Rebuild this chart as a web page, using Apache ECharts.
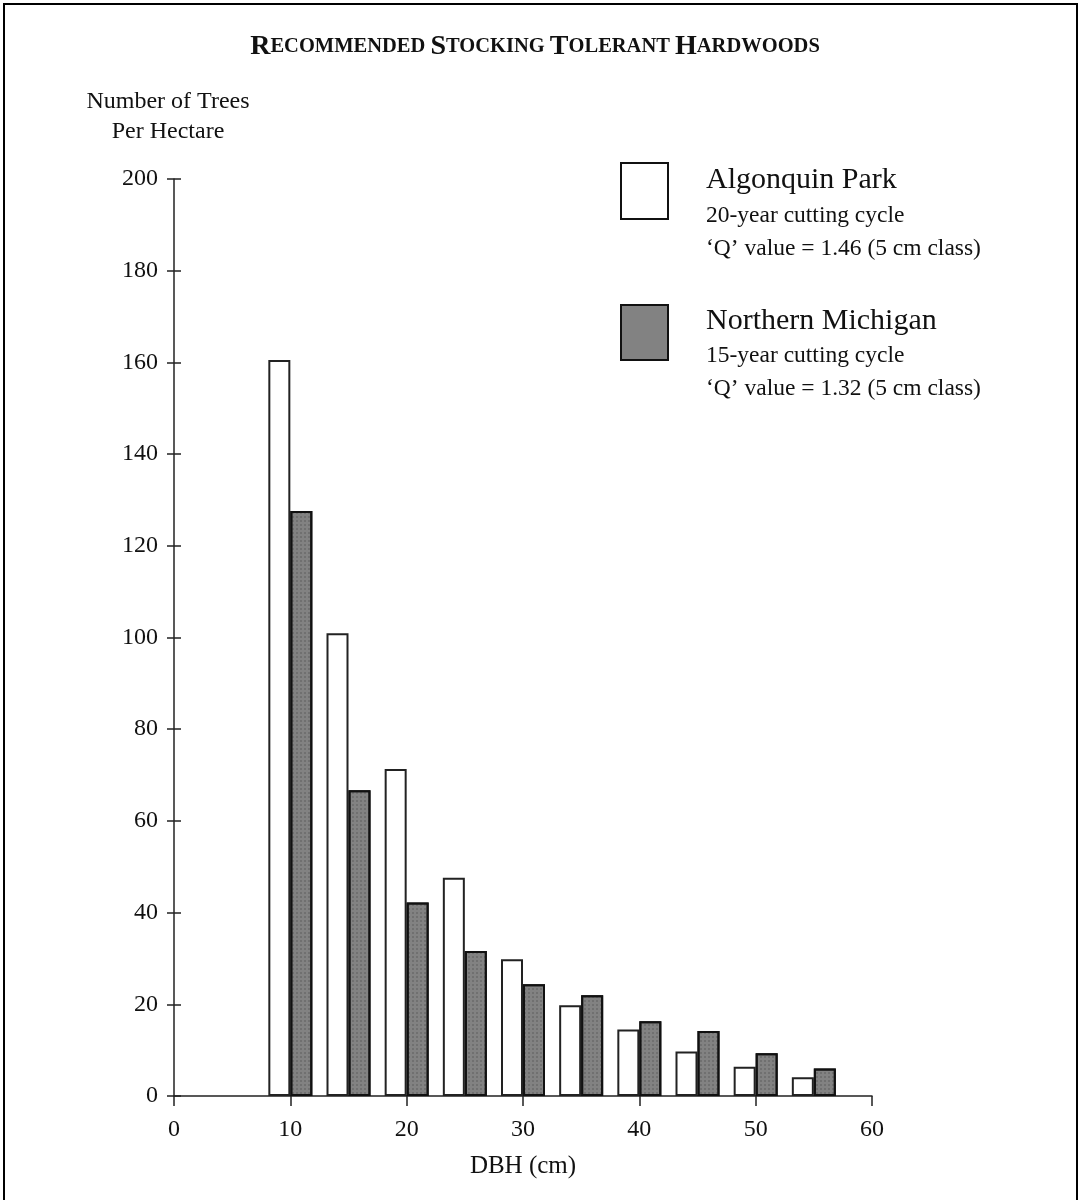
<!DOCTYPE html>
<html>
<head>
<meta charset="utf-8">
<script src="https://cdn.jsdelivr.net/npm/echarts@6/dist/echarts.min.js"></script>
<style>
html,body{margin:0;padding:0;background:#fff;}
#chart{width:1081px;height:1200px;}
</style>
</head>
<body>
<div id="chart"></div>
<script>
const chartTitle = 'Recommended Stocking Tolerant Hardwoods';
const dbhClasses = [10, 15, 20, 25, 30, 35, 40, 45, 50, 55];
const seriesNames = ['Algonquin Park', 'Northern Michigan'];
const algonquin = [160.5, 100.9, 71.3, 47.6, 29.8, 19.8, 14.5, 9.7, 6.4, 4.1];
const michigan  = [127.6, 66.7, 42.2, 31.6, 24.4, 22.0, 16.3, 14.2, 9.3, 6.0];
const legendNotes = [
  ['20-year cutting cycle', "\u2018Q\u2019 value = 1.46 (5 cm class)"],
  ['15-year cutting cycle', "\u2018Q\u2019 value = 1.32 (5 cm class)"]
];
const yAxisName = 'Number of Trees\nPer Hectare';
const xAxisName = 'DBH (cm)';

const FONT = "'Liberation Serif', 'DejaVu Serif', serif";

function smallCaps(str) {
  return str.split(' ').map(w => '{b|' + w[0].toUpperCase() + '}{s|' + w.slice(1).toUpperCase() + '}').join('{s| }');
}

const chart = echarts.init(document.getElementById('chart'), null, {renderer: 'canvas'});
const gridL = 174, gridR = 209, gridT = 179, gridB = 104;

const michiganColor = '#828282';
const michiganDecal = {symbol: 'rect', symbolSize: 0.6, color: 'rgba(30,30,30,0.55)', dashArrayX: [2, 2], dashArrayY: [2, 2], rotation: 0};

chart.setOption({
  backgroundColor: '#fff',
  animation: false,
  title: {
    text: smallCaps(chartTitle),
    left: 530, top: 28, textAlign: 'center',
    textStyle: {
      rich: {
        b: {fontFamily: FONT, fontSize: 28, color: '#111'},
        s: {fontFamily: FONT, fontSize: 20.5, color: '#111'}
      }
    }
  },
  grid: {left: gridL, right: gridR, top: gridT, bottom: gridB},
  xAxis: {
    type: 'value', min: 0, max: 60, interval: 10,
    name: xAxisName, nameLocation: 'middle', nameGap: 58,
    nameTextStyle: {fontFamily: FONT, fontSize: 25, color: '#111'},
    axisLine: {show: true, lineStyle: {color: '#222', width: 1.5}},
    axisTick: {show: true, length: 10, lineStyle: {color: '#222', width: 1.5}},
    axisLabel: {fontFamily: FONT, fontSize: 24, color: '#111', margin: 22},
    splitLine: {show: false}
  },
  yAxis: [{
    type: 'value', min: 0, max: 200, interval: 20,
    axisLine: {show: true, lineStyle: {color: '#222', width: 1.5}},
    axisTick: {show: true, length: 7, lineStyle: {color: '#222', width: 1.5}},
    axisLabel: {fontFamily: FONT, fontSize: 24, color: '#111', margin: 16},
    splitLine: {show: false}
  }, {
    type: 'value', min: 0, max: 200, interval: 20, position: 'left',
    axisLine: {show: false},
    axisTick: {show: true, inside: true, length: 7, lineStyle: {color: '#222', width: 1.5}},
    axisLabel: {show: false},
    splitLine: {show: false}
  }],
  graphic: [
    {type: 'rect', shape: {x: 4, y: 4, width: 1073, height: 1200}, style: {fill: 'none', stroke: '#000', lineWidth: 2}, silent: true},
    {type: 'text', x: 168, y: 87, style: {text: yAxisName, fontFamily: FONT, fontSize: 24, fill: '#111', align: 'center', lineHeight: 30}, silent: true},
    {type: 'rect', shape: {x: 621, y: 163, width: 47, height: 56}, style: {fill: '#fff', stroke: '#111', lineWidth: 2}},
    {type: 'text', x: 706, y: 165, style: {text: seriesNames[0], fontFamily: FONT, fontSize: 30, fill: '#111'}},
    {type: 'text', x: 706, y: 204, style: {text: legendNotes[0][0], fontFamily: FONT, fontSize: 23.5, fill: '#111'}},
    {type: 'text', x: 706, y: 237, style: {text: legendNotes[0][1], fontFamily: FONT, fontSize: 23.5, fill: '#111'}},
    {type: 'rect', shape: {x: 621, y: 305, width: 47, height: 55},
      style: {fill: michiganColor, stroke: '#111', lineWidth: 2}},
    {type: 'text', x: 706, y: 306, style: {text: seriesNames[1], fontFamily: FONT, fontSize: 30, fill: '#111'}},
    {type: 'text', x: 706, y: 344, style: {text: legendNotes[1][0], fontFamily: FONT, fontSize: 23.5, fill: '#111'}},
    {type: 'text', x: 706, y: 377, style: {text: legendNotes[1][1], fontFamily: FONT, fontSize: 23.5, fill: '#111'}}
  ],
  series: [{
    name: seriesNames[0], type: 'bar',
    data: dbhClasses.map((x, i) => [x, algonquin[i]]),
    barWidth: 22, barGap: '0%',
    itemStyle: {color: '#fff', borderColor: '#222', borderWidth: 2}
  }, {
    name: seriesNames[1], type: 'bar',
    data: dbhClasses.map((x, i) => [x, michigan[i]]),
    barWidth: 22, barGap: '0%',
    itemStyle: {color: michiganColor, borderColor: '#111', borderWidth: 2, decal: michiganDecal}
  }]
});
</script>
</body>
</html>
